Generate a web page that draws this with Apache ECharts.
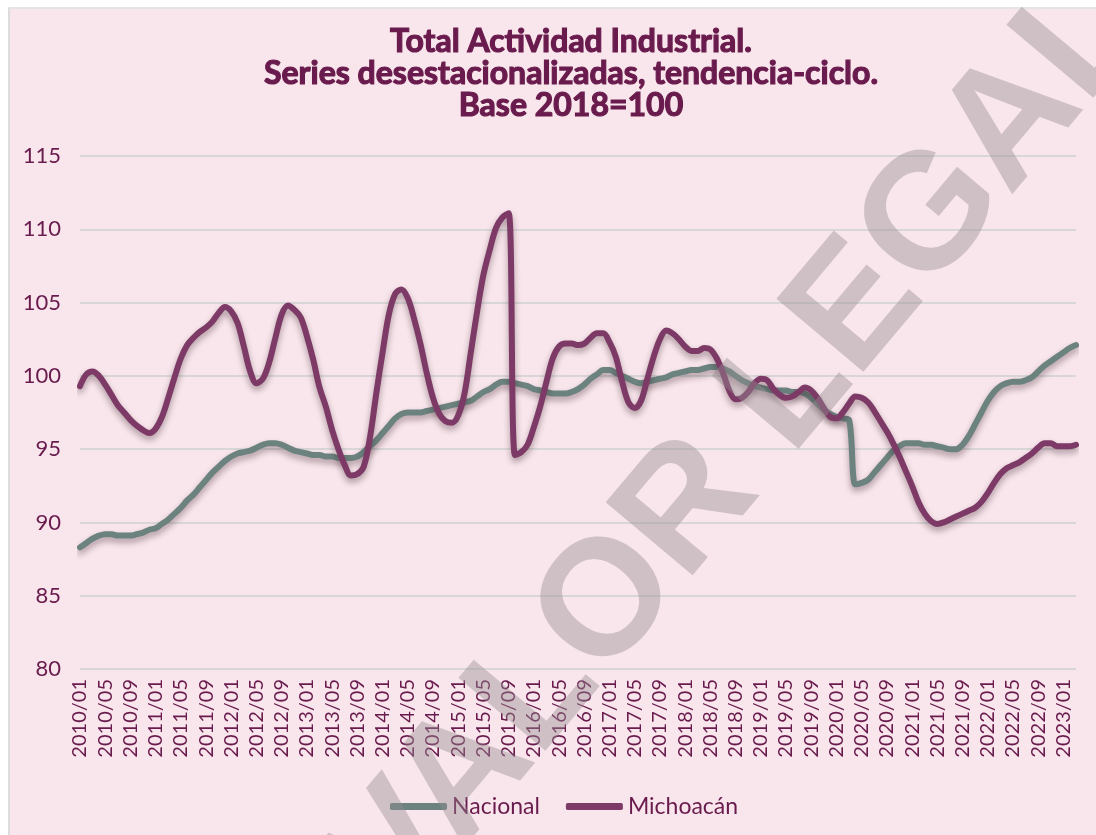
<!DOCTYPE html>
<html>
<head>
<meta charset="utf-8">
<script src="https://cdn.jsdelivr.net/npm/echarts@6/dist/echarts.min.js"></script>
<style>
  html, body { margin: 0; padding: 0; background: #ffffff; }
  .fondo {
    position: absolute; left: 8px; top: 7px; width: 1088px; height: 828px;
    background: #F8E6EC; border-left: 2px solid #dcdcdc; border-top: 2px solid #e4e4e4;
    box-sizing: border-box;
  }
  #grafica { position: absolute; left: 0; top: 0; width: 1096px; height: 835px; }
</style>
</head>
<body>
<div class="fondo"></div>
<div id="grafica"></div>
<script>
// categorias mensuales 2010/01 - 2023/03
var meses = [];
for (var a = 2010; a <= 2023; a++) {
  for (var m = 1; m <= 12; m++) {
    if (a === 2023 && m > 3) break;
    meses.push(a + "/" + (m < 10 ? "0" + m : m));
  }
}

var nacional = [
  88.3, 88.6, 88.9, 89.1, 89.2, 89.2, 89.1, 89.1, 89.1, 89.2, 89.3, 89.5,
  89.6, 89.9, 90.2, 90.6, 91.0, 91.5, 91.9, 92.4, 92.9, 93.4, 93.8, 94.2,
  94.5, 94.7, 94.8, 94.9, 95.1, 95.3, 95.4, 95.4, 95.3, 95.1, 94.9, 94.8,
  94.7, 94.6, 94.6, 94.5, 94.5, 94.4, 94.4, 94.4, 94.5, 94.8, 95.2, 95.6,
  96.1, 96.6, 97.1, 97.4, 97.5, 97.5, 97.5, 97.6, 97.7, 97.8, 97.9, 98.0,
  98.1, 98.2, 98.3, 98.6, 98.9, 99.1, 99.4, 99.6, 99.6, 99.5, 99.4, 99.3,
  99.1, 99.0, 98.9, 98.8, 98.8, 98.8, 98.9, 99.1, 99.4, 99.8, 100.1, 100.4,
  100.4, 100.2, 100.0, 99.8, 99.6, 99.5, 99.6, 99.7, 99.8, 99.9, 100.1, 100.2,
  100.3, 100.4, 100.4, 100.5, 100.6, 100.6, 100.5, 100.3, 100.0, 99.7, 99.5, 99.3,
  99.2, 99.1, 99.0, 99.0, 99.0, 98.9, 98.9, 98.8, 98.5, 98.1, 97.7, 97.4,
  97.2, 97.1, 97.0, 92.6, 92.7, 92.9, 93.4, 93.9, 94.4, 94.9, 95.2, 95.4,
  95.4, 95.4, 95.3, 95.3, 95.2, 95.1, 95.0, 95.0, 95.3, 95.9, 96.7, 97.5,
  98.3, 98.9, 99.3, 99.5, 99.6, 99.6, 99.7, 99.9, 100.3, 100.7, 101.0, 101.3,
  101.6, 101.9, 102.1
];

var michoacan = [
  99.3, 100.1, 100.3, 100.0, 99.4, 98.7, 98.0, 97.5, 97.0, 96.6, 96.3, 96.1,
  96.4, 97.2, 98.5, 99.9, 101.2, 102.1, 102.6, 103.0, 103.3, 103.7, 104.3, 104.7,
  104.4, 103.6, 102.0, 100.3, 99.5, 99.8, 100.9, 102.6, 104.2, 104.8, 104.5, 104.0,
  102.7, 101.1, 99.2, 97.9, 96.3, 95.0, 93.9, 93.2, 93.3, 93.8, 95.8, 98.8,
  101.6, 104.2, 105.6, 105.9, 105.3, 103.9, 102.2, 100.2, 98.5, 97.4, 96.9, 96.8,
  97.3, 98.8, 101.6, 104.4, 106.9, 108.6, 110.1, 110.8, 111.1, 94.6, 94.8, 95.3,
  96.5, 97.9, 99.6, 101.2, 102.0, 102.2, 102.2, 102.1, 102.2, 102.6, 102.9, 102.9,
  102.3, 101.3, 99.6, 98.2, 97.8, 98.3, 99.8, 101.3, 102.5, 103.1, 102.9, 102.5,
  102.0, 101.7, 101.7, 101.9, 101.8, 101.2, 100.2, 99.0, 98.4, 98.5, 98.9, 99.5,
  99.8, 99.7, 99.1, 98.7, 98.5, 98.6, 98.9, 99.2, 99.0, 98.5, 97.8, 97.2,
  97.1, 97.5, 98.1, 98.6, 98.5, 98.2, 97.6, 96.9, 96.2, 95.4, 94.5, 93.5,
  92.5, 91.4, 90.6, 90.1, 89.9, 90.0, 90.2, 90.4, 90.6, 90.8, 91.0, 91.4,
  92.0, 92.7, 93.3, 93.7, 93.9, 94.1, 94.4, 94.7, 95.1, 95.4, 95.4, 95.2,
  95.2, 95.2, 95.3
];

var colorTexto = "#6A1B4D";
var colorNacional = "#6B827E";
var colorMichoacan = "#7D3A67";

var myChart = echarts.init(document.getElementById("grafica"));

var option = {
  title: {
    text: "Total Actividad Industrial.\nSeries desestacionalizadas, tendencia-ciclo.\nBase 2018=100",
    left: 566,
    top: 21,
    textAlign: "center",
    textStyle: {
      fontFamily: "Lato",
      fontWeight: "bold",
      fontSize: 32,
      lineHeight: 32,
      color: colorTexto,
      textBorderColor: colorTexto,
      textBorderWidth: 1.2
    }
  },
  legend: {
    data: ["Nacional", "Michoacán"],
    left: 385,
    top: 790,
    itemWidth: 57,
    itemHeight: 7,
    itemGap: 26,
    icon: "roundRect",
    textStyle: { fontFamily: "Lato", fontSize: 23, color: colorTexto }
  },
  grid: { left: 80, right: 20, top: 156, bottom: 166 },
  xAxis: {
    type: "category",
    data: meses,
    boundaryGap: false,
    axisLine: { show: false },
    axisTick: { show: false },
    axisLabel: {
      interval: 3,
      rotate: 90,
      margin: 10,
      fontFamily: "Lato",
      fontSize: 20,
      color: colorTexto
    }
  },
  yAxis: {
    type: "value",
    min: 80,
    max: 115,
    interval: 5,
    axisLine: { show: false },
    axisTick: { show: false },
    axisLabel: { margin: 19, fontFamily: "Lato", fontSize: 22, color: colorTexto },
    splitLine: { lineStyle: { color: "#D9D6D8", width: 2 } }
  },
  series: [
    {
      name: "Nacional",
      type: "line",
      data: nacional,
      smooth: 0.35,
      symbol: "none",
      itemStyle: { color: colorNacional },
      lineStyle: {
        width: 6, color: colorNacional, cap: "round",
        shadowColor: "rgba(60,30,40,0.4)", shadowBlur: 6, shadowOffsetY: 4
      }
    },
    {
      name: "Michoacán",
      type: "line",
      data: michoacan,
      smooth: 0.35,
      symbol: "none",
      itemStyle: { color: colorMichoacan },
      lineStyle: {
        width: 6, color: colorMichoacan, cap: "round",
        shadowColor: "rgba(60,30,40,0.4)", shadowBlur: 6, shadowOffsetY: 4
      }
    }
  ],
  // marca de agua
  graphic: [
    {
      type: "text",
      x: 740,
      y: 448,
      rotation: 50 * Math.PI / 180,
      z: 100,
      silent: true,
      style: {
        text: "VALOR LEGAL",
        align: "center",
        verticalAlign: "middle",
        font: "bold 165px 'Liberation Sans'",
        fill: "rgba(150,140,146,0.42)"
      }
    }
  ]
};

myChart.setOption(option);
</script>
</body>
</html>
